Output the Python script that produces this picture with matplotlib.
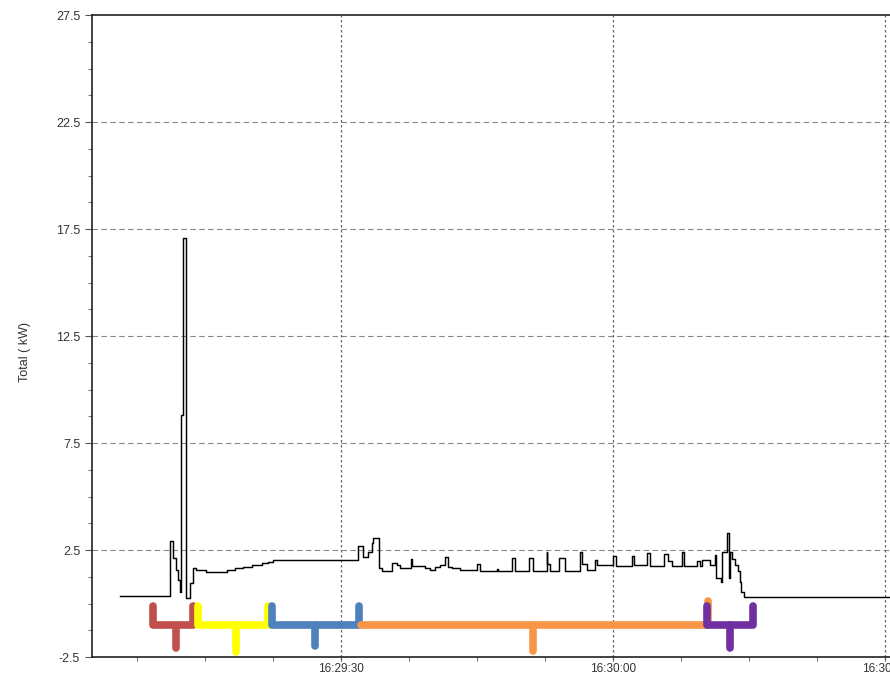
import matplotlib
matplotlib.use('Agg')
import matplotlib.pyplot as plt
import numpy as np

plt.rc('font', **{'family': 'sans-serif', 'sans-serif': ['Liberation Sans', 'DejaVu Sans']})

# time in seconds after 16:29:00, total power in kW (step trace)
t = [5.6, 11.15, 11.48, 11.81, 12.03, 12.25, 12.35, 12.58, 12.95, 13.4,
     13.68, 14.0, 15.1, 16.1, 17.4, 18.3, 19.2, 20.2, 21.3, 22.0,
     22.5, 31.9, 32.4, 33.0, 33.4, 33.6, 34.2, 34.5, 35.7, 36.2,
     36.5, 37.7, 37.9, 39.3, 39.8, 40.4, 40.9, 41.5, 41.8, 42.3,
     43.1, 45.0, 45.4, 47.2, 47.4, 48.85, 49.2, 50.8, 51.2, 52.7,
     52.8, 53.1, 54.1, 54.7, 56.35, 56.6, 57.2, 58.0, 58.3, 60.0,
     60.4, 62.1, 62.4, 63.8, 64.1, 65.7, 66.05, 66.5, 67.6, 67.9,
     69.25, 69.6, 69.9, 70.7, 71.3, 71.45, 71.9, 72.1, 72.6, 72.8,
     73.0, 73.2, 73.55, 73.8, 74.0, 74.2, 74.5, 90.6]
kw = [0.35, 2.92, 2.13, 1.55, 1.1, 0.54, 8.8, 17.1, 0.26, 0.96,
      1.66, 1.57, 1.49, 1.46, 1.57, 1.66, 1.72, 1.8, 1.88, 1.95,
      2.03, 2.69, 2.19, 2.42, 2.84, 3.05, 1.64, 1.53, 1.88, 1.8,
      1.67, 2.07, 1.75, 1.64, 1.56, 1.71, 1.8, 2.16, 1.7, 1.64,
      1.56, 1.85, 1.52, 1.62, 1.52, 2.11, 1.52, 2.11, 1.52, 2.42,
      1.83, 1.52, 2.11, 1.52, 2.42, 1.83, 1.55, 2.05, 1.8, 2.2,
      1.75, 2.2, 1.8, 2.36, 1.75, 2.3, 2.0, 1.75, 2.4, 1.75,
      2.0, 1.75, 2.03, 1.8, 2.27, 1.18, 1.02, 2.42, 3.28, 1.18,
      2.42, 2.1, 1.8, 1.5, 1.0, 0.55, 0.32, 0.32]

# phase brackets: (left, right, stem, stem bottom, colour)
phases = [
    (9.3, 13.7, 11.8, -2.08, '#C0504D'),
    (14.27, 22.0, 18.4, -2.25, '#FFFF00'),
    (22.36, 32.0, 27.1, -2.0, '#4F81BD'),
    (32.2, 70.5, 51.2, -2.22, '#F79646'),
    (70.4, 75.45, 72.9, -2.06, '#7030A0'),
]
brk_top = -0.1
brk_mid = -1.0

yticks = [-2.5, 2.5, 7.5, 12.5, 17.5, 22.5, 27.5]
xticks = [30, 60, 90]
xlabels = ['16:29:30', '16:30:00', '16:30:30']

fig = plt.figure(figsize=(8.9, 6.76), dpi=100)
ax = fig.add_axes([0.1034, 0.0281, 0.8966, 0.9497])

ax.plot(t, kw, drawstyle='steps-post', color='black', lw=1.05, zorder=3)

for left, right, stem, bottom, col in phases:
    if col == '#F79646':
        xs = [left, right, right]
        ys = [brk_mid, brk_mid, 0.1]
    else:
        xs = [left, left, right, right]
        ys = [brk_top, brk_mid, brk_mid, brk_top]
    ax.plot(xs, ys, color=col, lw=5.5, solid_capstyle='round',
            solid_joinstyle='round', zorder=4)
    ax.plot([stem, stem], [brk_mid, bottom], color=col, lw=5.5,
            solid_capstyle='round', zorder=4)

ax.set_xlim(2.55, 90.6)
ax.set_ylim(-2.5, 27.5)
ax.set_yticks(yticks)
ax.set_yticklabels(['%.1f' % y for y in yticks])
ax.set_yticks(np.arange(-2.5, 27.6, 1.25), minor=True)
ax.set_xticks(xticks)
ax.set_xticklabels(xlabels)
ax.set_xticks(np.arange(7.5, 90, 7.5), minor=True)

ax.tick_params(which='major', direction='out', length=5, width=0.8,
               labelsize=9, labelcolor='#333333', color='#555555')
ax.tick_params(which='minor', direction='out', length=3, width=0.8, color='#777777')
ax.tick_params(axis='x', which='major', length=3, pad=1, labelsize=8.5)

for y in yticks[1:-1]:
    ax.axhline(y, color='#888888', lw=0.8, ls=(0, (5, 3)), zorder=1)
for x in xticks:
    ax.axvline(x, color='#666666', lw=0.9, ls=(0, (2, 2)), zorder=1)

ax.spines['right'].set_visible(False)
for s in ['left', 'top', 'bottom']:
    ax.spines[s].set_linewidth(1.2)
    ax.spines[s].set_color('#222222')

fig.text(0.028, 0.48, 'Total ( kW)', rotation=90, fontsize=9,
         color='#333333', ha='center', va='center')

fig.savefig('out.png', dpi=100)
